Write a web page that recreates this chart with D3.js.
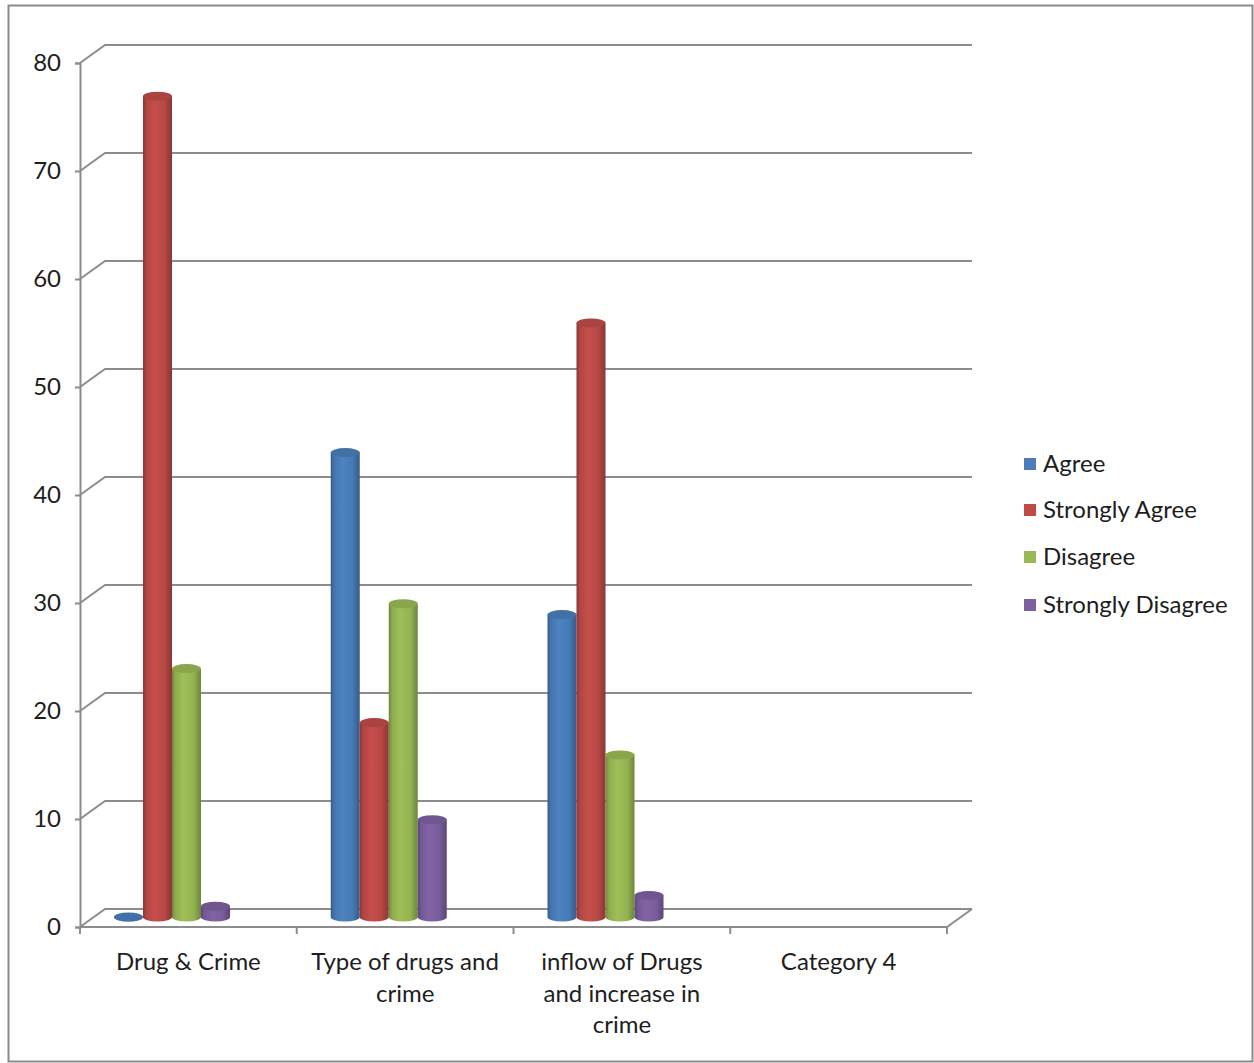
<!DOCTYPE html>
<html>
<head>
<meta charset="utf-8">
<script src="https://cdn.jsdelivr.net/npm/d3@7/dist/d3.min.js"></script>
<style>
  html, body { margin: 0; padding: 0; background: #fff; }
  svg { display: block; }
  text { font-family: Lato, "Open Sans", sans-serif; fill: #1e1e1e; }
</style>
</head>
<body>
<svg id="chart" width="1254" height="1063"></svg>
<script>
// Survey responses per statement
const categories = ["Drug & Crime", "Type of drugs and crime", "inflow of Drugs and increase in crime", "Category 4"];
const categoryLines = [["Drug & Crime"], ["Type of drugs and", "crime"], ["inflow of Drugs", "and increase in", "crime"], ["Category 4"]];
const seriesNames = ["Agree", "Strongly Agree", "Disagree", "Strongly Disagree"];
const agree = [0, 43, 28, null];
const stronglyAgree = [76, 18, 55, null];
const disagree = [23, 29, 15, null];
const stronglyDisagree = [1, 9, 2, null];
const yTicks = [0, 10, 20, 30, 40, 50, 60, 70, 80];
const colors = ["#4A7EBB", "#BE4B48", "#98B954", "#7D60A0"];

const seriesValues = [agree, stronglyAgree, disagree, stronglyDisagree];

const svg = d3.select("#chart");
const fontSize = 24;

// outer chart frame
svg.append("rect")
  .attr("x", 8.5).attr("y", 5.5).attr("width", 1244).attr("height", 1056)
  .attr("fill", "none").attr("stroke", "#8a8a8a").attr("stroke-width", 2);

// plot geometry (front face + depth offset)
const frontLeft = 80, frontRight = 947;
const depthX = 25, depthY = -18;
const frontY = d3.scaleLinear().domain([0, 80]).range([927, 63]);
const midY = d3.scaleLinear().domain([0, 80]).range([917, 53]);
const x = d3.scaleBand().domain(categories).range([frontLeft, frontRight]).paddingInner(0).paddingOuter(0);
const sub = d3.scaleBand().domain(seriesNames).range([0, 116]);
const groupOffset = 34;

const gridColor = "#8c8c8c";
const grid = svg.append("g");

// back-wall gridlines with their diagonal returns to the front axis
yTicks.forEach(t => {
  const yf = frontY(t);
  grid.append("path")
    .attr("d", `M${frontLeft},${yf} L${frontLeft + depthX},${yf + depthY} L${frontRight + depthX},${yf + depthY}`)
    .attr("fill", "none").attr("stroke", gridColor).attr("stroke-width", 2);
});

// floor front edge and right return
grid.append("path")
  .attr("d", `M${frontLeft},${frontY(0)} L${frontRight},${frontY(0)} L${frontRight + depthX},${frontY(0) + depthY}`)
  .attr("fill", "none").attr("stroke", gridColor).attr("stroke-width", 2);

// value axis
const yAxis = d3.axisLeft(frontY).tickValues(yTicks).tickSize(5).tickPadding(14);
const yG = svg.append("g").attr("transform", `translate(${frontLeft},0)`).call(yAxis);
yG.select(".domain").attr("stroke", gridColor).attr("stroke-width", 2);
yG.selectAll(".tick line").attr("stroke", gridColor).attr("stroke-width", 2);
yG.selectAll(".tick text").attr("font-size", fontSize).attr("fill", "#1e1e1e")
  .style("font-family", "Lato, sans-serif");

// category axis ticks and wrapped labels
const xG = svg.append("g");
const boundaries = categories.map(c => x(c)).concat([frontRight]);
boundaries.forEach(bx => {
  xG.append("line").attr("x1", bx).attr("x2", bx)
    .attr("y1", frontY(0)).attr("y2", frontY(0) + 7)
    .attr("stroke", gridColor).attr("stroke-width", 2);
});
categories.forEach((c, i) => {
  const t = xG.append("text")
    .attr("x", x(c) + x.bandwidth() / 2)
    .attr("text-anchor", "middle").attr("font-size", fontSize);
  categoryLines[i].forEach((ln, j) => {
    t.append("tspan").attr("x", x(c) + x.bandwidth() / 2)
      .attr("y", 970 + j * 31.5).text(ln);
  });
});

// cylinder gradients per series
const defs = svg.append("defs");
colors.forEach((col, i) => {
  const base = d3.color(col);
  const g = defs.append("linearGradient").attr("id", "cyl" + i)
    .attr("x1", "0%").attr("x2", "100%").attr("y1", "0%").attr("y2", "0%");
  g.append("stop").attr("offset", "0%").attr("stop-color", base.darker(0.9));
  g.append("stop").attr("offset", "12%").attr("stop-color", base.darker(0.2));
  g.append("stop").attr("offset", "40%").attr("stop-color", base.brighter(0.1));
  g.append("stop").attr("offset", "75%").attr("stop-color", base.darker(0.1));
  g.append("stop").attr("offset", "100%").attr("stop-color", base.darker(0.9));
});

// cylinders
const rx = sub.bandwidth() / 2, ry = 4.5;
const bars = svg.append("g");
categories.forEach((c, ci) => {
  seriesNames.forEach((s, si) => {
    const v = seriesValues[si][ci];
    if (v === null || v === undefined) return;
    const cx = x(c) + groupOffset + sub(s) + rx;
    const yTop = midY(v), yBot = midY(0);
    const g = bars.append("g");
    // body with rounded bottom
    g.append("path")
      .attr("d", `M${cx - rx},${yTop} L${cx - rx},${yBot} A${rx},${ry} 0 0 0 ${cx + rx},${yBot} L${cx + rx},${yTop} Z`)
      .attr("fill", `url(#cyl${si})`);
    // top cap
    g.append("ellipse")
      .attr("cx", cx).attr("cy", yTop).attr("rx", rx).attr("ry", ry)
      .attr("fill", d3.color(colors[si]).darker(0.3));
  });
});

// legend
const legend = svg.append("g").attr("transform", "translate(1024,0)");
const legendY = [464, 510, 557, 605];
seriesNames.forEach((s, i) => {
  legend.append("rect").attr("x", 0).attr("y", legendY[i] - 6)
    .attr("width", 12).attr("height", 12).attr("fill", colors[i]);
  legend.append("text").attr("x", 19).attr("y", legendY[i])
    .attr("dy", "0.35em").attr("font-size", fontSize).text(s);
});
</script>
</body>
</html>
